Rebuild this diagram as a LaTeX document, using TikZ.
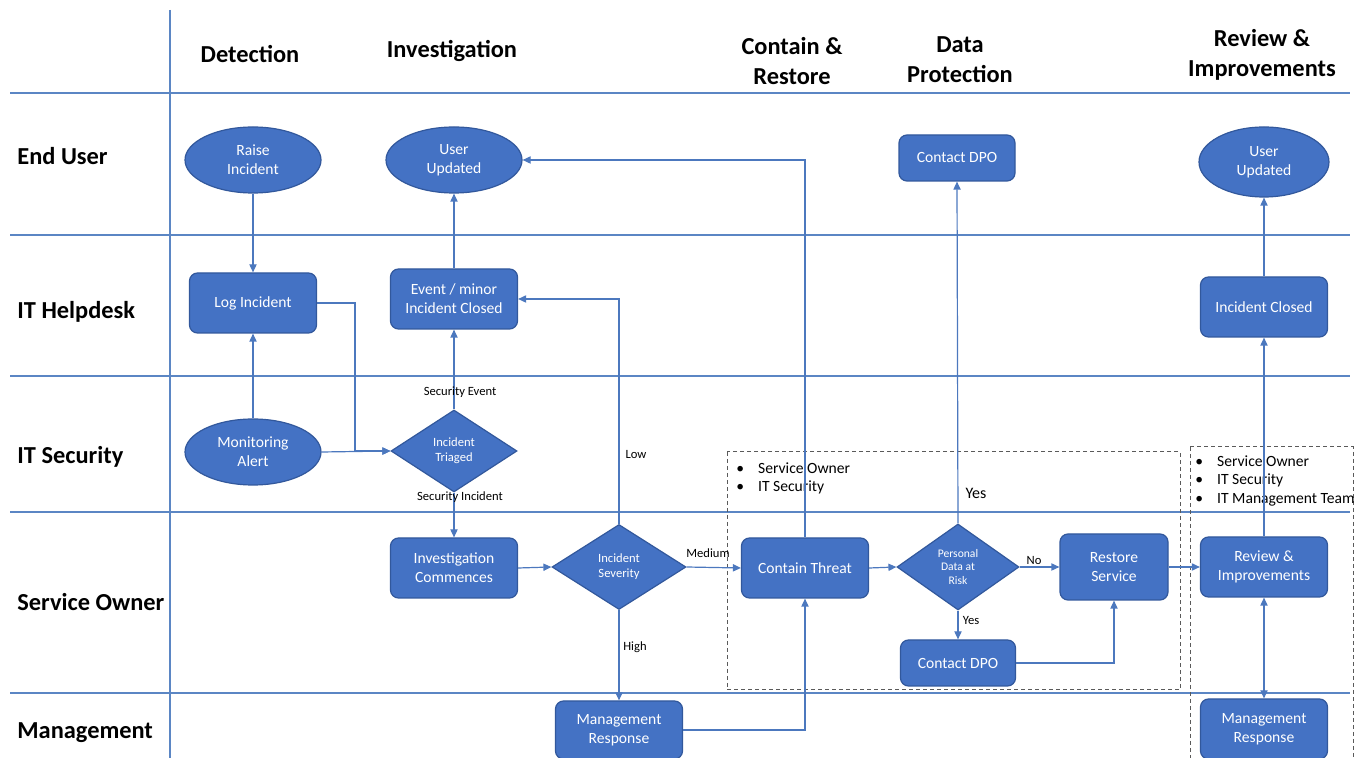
\documentclass[tikz,border=0pt]{standalone}
\usepackage{fontspec}
\setmainfont{Carlito}
\usetikzlibrary{shapes.geometric,arrows.meta}
\definecolor{lanec}{RGB}{91,134,196}
\definecolor{linec}{RGB}{76,120,190}
\definecolor{nodefill}{RGB}{68,114,196}
\definecolor{nodedraw}{RGB}{50,88,156}
\definecolor{grpc}{RGB}{90,90,90}
\newcommand{\hdrfont}{\fontsize{12.2}{15}\selectfont\bfseries}
\newcommand{\nodefont}{\fontsize{7.8}{9.4}\selectfont}
\newcommand{\smallnodefont}{\fontsize{6.3}{7.6}\selectfont}
\newcommand{\lblfont}{\fontsize{6.3}{7.5}\selectfont}
\newcommand{\bulfont}{\fontsize{7.8}{9.3}\selectfont}
\tikzset{
  lane/.style={draw=lanec, line width=0.6pt},
  proc/.style={rectangle, rounded corners=4pt, fill=nodefill, draw=nodedraw, line width=0.6pt,
    text=white, font=\nodefont, align=center, minimum width=63.5pt, minimum height=30pt, inner sep=1pt},
  term/.style={ellipse, fill=nodefill, draw=nodedraw, line width=0.6pt,
    text=white, font=\nodefont, align=center, minimum width=68pt, minimum height=33pt, inner sep=0pt},
  dec/.style={diamond, fill=nodefill, draw=nodedraw, line width=0.6pt,
    text=white, font=\smallnodefont, align=center, inner sep=0pt},
  conn/.style={draw=linec, line width=0.6pt, -{Triangle[length=4pt,width=3.6pt]}},
  lbl/.style={font=\lblfont, text=black, inner sep=0pt},
  hdr/.style={font=\hdrfont, align=center, inner sep=0pt},
  lanelbl/.style={font=\hdrfont, anchor=west, inner sep=0pt},
  grp/.style={draw=grpc, dashed, dash pattern=on 2pt off 1.5pt, line width=0.5pt},
  bul/.style={font=\bulfont, align=left, anchor=north west, inner sep=0pt, text=black}
}
\begin{document}
\begin{tikzpicture}[x=0.5pt,y=-0.5pt]
\useasboundingbox (0,0) rectangle (1356,758);
% swimlane grid
\draw[lane] (170,10) -- (170,758);
\foreach \yy in {93,235,376,512,693} { \draw[lane] (10,\yy) -- (1350,\yy); }
% headers
\node[hdr] (hDet) at (250,54) {Detection};
\node[hdr] (hInv) at (452,51) {Investigation};
\node[hdr] (hCon) at (792,61) {Contain \&\\Restore};
\node[hdr] (hDat) at (960,60) {Data\\Protection};
\node[hdr] (hRev) at (1262,55) {Review \&\\Improvements};
% lane labels
\node[lanelbl] (lEU) at (17,156) {End User};
\node[lanelbl] (lHD) at (17,312) {IT Helpdesk};
\node[lanelbl] (lSec) at (17,457) {IT Security};
\node[lanelbl] (lSO) at (17,602) {Service Owner};
\node[lanelbl] (lMg) at (17,733) {Management};
% dashed groups
\draw[grp] (727,452) rectangle (1180,690);
\draw[grp] (1190,447) -- (1353,447) -- (1353,758);
\draw[grp] (1190,447) -- (1190,758);
\node[bul] (b1) at (736,462) {\textbullet\hspace{7pt}Service Owner\\\textbullet\hspace{7pt}IT Security};
\node[bul] (b2) at (1195,455) {\textbullet\hspace{7pt}Service Owner\\\textbullet\hspace{7pt}IT Security\\\textbullet\hspace{7pt}IT Management Team};
% nodes
\node[term] (raise) at (253,160) {Raise\\Incident};
\node[term] (uu1) at (454,160) {User\\Updated};
\node[proc, minimum width=58pt, minimum height=23pt] (dpo1) at (957,158) {Contact DPO};
\node[term, minimum width=65pt, minimum height=35pt] (uu2) at (1264,162) {User\\Updated};
\node[proc] (log) at (253,303) {Log Incident};
\node[proc] (evc) at (454,299) {Event / minor\\Incident Closed};
\node[proc] (ic) at (1264,307) {Incident Closed};
\node[term] (mon) at (253,452) {Monitoring\\Alert};
\node[dec, minimum width=63pt, minimum height=41pt] (tri) at (454,451) {Incident\\Triaged};
\node[proc] (invc) at (454,568) {Investigation\\Commences};
\node[dec, minimum width=67pt, minimum height=42.5pt] (sev) at (619,567) {Incident\\Severity};
\node[proc] (ct) at (805,568) {Contain Threat};
\node[dec, minimum width=61pt, minimum height=43pt, font=\fontsize{5.8}{6.8}\selectfont] (pdr) at (958,567) {Personal\\Data at\\Risk};
\node[proc, minimum width=54pt, minimum height=33pt] (rs) at (1114,567) {Restore\\Service};
\node[proc] (rev) at (1264,567) {Review \&\\Improvements};
\node[proc, minimum width=57.5pt, minimum height=23pt] (dpo2) at (958,663) {Contact DPO};
\node[proc, minimum height=29pt] (mr1) at (619,730) {Management\\Response};
\node[proc] (mr2) at (1264,729) {Management\\Response};
% connectors
\draw[conn] (raise) -- (log);
\draw[conn] (mon) -- (log);
\coordinate (j1) at (355,451);
\draw[conn] (log.east) -| (j1) -- (tri.west);
\draw[conn] (mon.east) -- (tri.west);
\draw[conn] (tri.north) -- (evc.south);
\draw[conn] (evc.north) -- (uu1.south);
\draw[conn] (tri.south) -- (invc.north);
\draw[conn] (invc.east) -- (sev.west);
\draw[conn] (sev.north) |- (evc.east);
\draw[conn] (sev.east) -- (ct.west);
\draw[conn] (sev.south) -- (mr1.north);
\draw[conn] (mr1.east) -| (ct.south);
\draw[conn] (ct.north) |- (uu1.east);
\draw[conn] (ct.east) -- (pdr.west);
\draw[conn] (pdr.north) -- (dpo1.south);
\draw[conn] (pdr.east) -- (rs.west);
\draw[conn] (pdr.south) -- (dpo2.north);
\draw[conn] (dpo2.east) -| (rs.south);
\draw[conn] (rs.east) -- (rev.west);
\draw[conn] (rev.north) -- (ic.south);
\draw[conn] (ic.north) -- (uu2.south);
\draw[conn, {Triangle[length=4pt,width=3.6pt]}-{Triangle[length=4pt,width=3.6pt]}] (rev.south) -- (mr2.north);
% labels
\node[lbl] (lSE) at (460,392) {Security Event};
\node[lbl] (lSI) at (460,497) {Security Incident};
\node[lbl] (lLow) at (636,455) {Low};
\node[lbl] (lMed) at (708,553) {Medium};
\node[lbl] (lHigh) at (635,647) {High};
\node[lbl, font=\fontsize{8}{9}\selectfont] (lYes1) at (976,493) {Yes};
\node[lbl] (lNo) at (1034,561) {No};
\node[lbl] (lYes2) at (971,621) {Yes};
\end{tikzpicture}
\end{document}
